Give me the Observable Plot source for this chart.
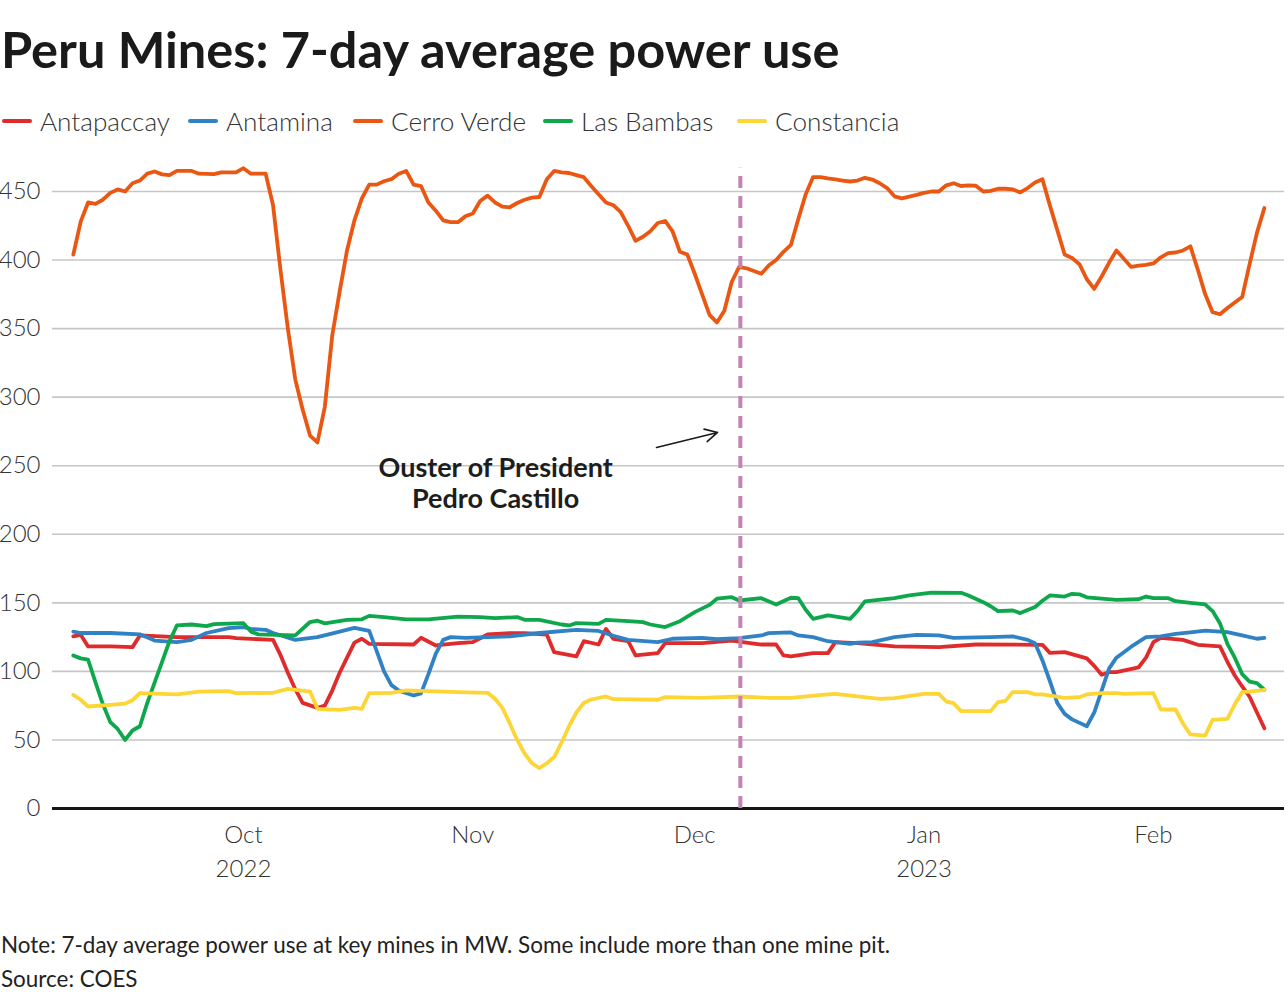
<!DOCTYPE html>
<html>
<head>
<meta charset="utf-8">
<script src="https://cdn.jsdelivr.net/npm/d3@7"></script>
<script src="https://cdn.jsdelivr.net/npm/@observablehq/plot@0.6"></script>
<style>
  html, body { margin: 0; padding: 0; background: #fff; }
  body { font-family: Lato, "Noto Sans", sans-serif; color: #1d1d1d; }
  #wrap { position: relative; width: 1288px; height: 1000px; overflow: hidden; }
  .abs { position: absolute; white-space: nowrap; line-height: 1; }
  #title { left: 1px; font-weight: 700; color: #1a1a1a; }
  #legend .item { position: absolute; display: flex; align-items: center; }
  #legend .sw { width: 30px; height: 4px; border-radius: 2px; margin-right: 8px; }
  #legend .lab { font-weight: 300; color: #333; line-height: 1; }
  #chart { position: absolute; left: 0; top: 150px; }
  #note, #source { left: 1px; font-weight: 400; color: #222; }
</style>
</head>
<body>
<div id="wrap">
  <div id="title" class="abs">Peru Mines: 7-day average power use</div>
  <div id="legend"></div>
  <div id="chart"></div>
  <div id="note" class="abs">Note: 7-day average power use at key mines in MW. Some include more than one mine pit.</div>
  <div id="source" class="abs">Source: COES</div>
</div>
<script>
// ---------------- DATA ----------------
const mines = ["Antapaccay", "Antamina", "Cerro Verde", "Las Bambas", "Constancia"];
const mineColors = ["#df2b2b", "#3082c4", "#ea5712", "#0ea74b", "#fdd535"];

const antapaccay = [
  ["2022-09-08",125.5],["2022-09-09",126.7],["2022-09-10",118.2],["2022-09-13",118.2],["2022-09-16",117.7],
  ["2022-09-17",126.2],["2022-09-22",125],["2022-09-29",125],["2022-09-30",124.2],["2022-10-05",123],
  ["2022-10-06",112],["2022-10-07",99],["2022-10-08",87],["2022-10-09",77],["2022-10-11",73.4],
  ["2022-10-12",75],["2022-10-13",86],["2022-10-14",99],["2022-10-15",110],["2022-10-16",121],
  ["2022-10-17",123.8],["2022-10-18",120.1],["2022-10-24",119.6],["2022-10-25",124.5],["2022-10-27",118.9],
  ["2022-10-30",120.6],["2022-11-01",121.3],["2022-11-03",126.9],["2022-11-06",127.9],["2022-11-08",127.9],
  ["2022-11-11",126.9],["2022-11-12",114],["2022-11-15",110.9],["2022-11-16",122],["2022-11-18",119.6],
  ["2022-11-19",131],["2022-11-20",123.8],["2022-11-22",122],["2022-11-23",111.6],["2022-11-26",113.3],
  ["2022-11-27",120.6],["2022-12-02",120.6],["2022-12-06",122.5],["2022-12-10",119.6],["2022-12-12",119.6],
  ["2022-12-13",111.6],["2022-12-14",110.9],["2022-12-17",113.3],["2022-12-19",113.3],["2022-12-20",121.3],
  ["2022-12-23",120.6],["2022-12-28",118.2],["2023-01-03",117.7],["2023-01-08",119.6],["2023-01-17",119.4],
  ["2023-01-18",113.5],["2023-01-20",114],["2023-01-23",109.5],["2023-01-24",104],["2023-01-25",97.5],
  ["2023-01-26",99.4],["2023-01-27",99.4],["2023-01-30",103],["2023-01-31",110],["2023-02-01",121.3],
  ["2023-02-02",124.5],["2023-02-05",123],["2023-02-07",119.4],["2023-02-10",118.2],["2023-02-11",107],
  ["2023-02-12",97],["2023-02-13",89],["2023-02-14",81.5],["2023-02-15",70],["2023-02-16",58.5]
];

const antamina = [
  ["2022-09-08",129],["2022-09-09",128],["2022-09-13",128],["2022-09-17",127],["2022-09-19",122.5],
  ["2022-09-22",121.3],["2022-09-24",123],["2022-09-26",128],["2022-09-29",131.5],["2022-10-01",132.3],
  ["2022-10-02",131],["2022-10-04",130.3],["2022-10-05",128],["2022-10-08",123],["2022-10-11",125],
  ["2022-10-14",129],["2022-10-16",131.8],["2022-10-18",129.5],["2022-10-19",115],["2022-10-20",100],
  ["2022-10-21",90],["2022-10-22",86],["2022-10-24",82.4],["2022-10-25",84],["2022-10-26",98],
  ["2022-10-27",113],["2022-10-28",123],["2022-10-29",125],["2022-10-31",124.5],["2022-11-06",125.5],
  ["2022-11-10",128],["2022-11-15",130.3],["2022-11-18",129.5],["2022-11-20",126],["2022-11-22",123],
  ["2022-11-26",121.3],["2022-11-28",123.8],["2022-12-02",124.5],["2022-12-04",123.5],["2022-12-07",124.2],
  ["2022-12-10",126.2],["2022-12-11",127.9],["2022-12-14",128.4],["2022-12-15",126.2],["2022-12-17",125],
  ["2022-12-19",122],["2022-12-22",120],["2022-12-23",121],["2022-12-25",121.3],["2022-12-28",125],
  ["2022-12-31",126.7],["2023-01-03",126.2],["2023-01-05",124.5],["2023-01-10",125],["2023-01-13",125.5],
  ["2023-01-15",123],["2023-01-16",120.5],["2023-01-17",108],["2023-01-18",93],["2023-01-19",77],
  ["2023-01-20",69],["2023-01-21",65],["2023-01-23",60],["2023-01-24",70],["2023-01-25",86],
  ["2023-01-26",102],["2023-01-27",110],["2023-01-28",114],["2023-01-29",118],["2023-01-31",125],
  ["2023-02-02",125.5],["2023-02-04",127.4],["2023-02-06",128.5],["2023-02-08",129.8],["2023-02-11",128.6],
  ["2023-02-13",126.2],["2023-02-15",123.8],["2023-02-16",124.5]
];

const cerroVerde = [
  ["2022-09-08",404],["2022-09-09",428],["2022-09-10",442],["2022-09-11",441],["2022-09-12",444],
  ["2022-09-13",449],["2022-09-14",451.5],["2022-09-15",450],["2022-09-16",456],["2022-09-17",458],
  ["2022-09-18",463],["2022-09-19",464.6],["2022-09-20",462.5],["2022-09-21",462],["2022-09-22",465],
  ["2022-09-24",465],["2022-09-25",463],["2022-09-27",462.7],["2022-09-28",464],["2022-09-30",464],
  ["2022-10-01",467],["2022-10-02",463],["2022-10-04",463],["2022-10-05",440],["2022-10-06",393],
  ["2022-10-07",350],["2022-10-08",313],["2022-10-09",291],["2022-10-10",272],["2022-10-11",267],
  ["2022-10-12",293],["2022-10-13",345],["2022-10-14",377],["2022-10-15",407],["2022-10-16",429],
  ["2022-10-17",445],["2022-10-18",455],["2022-10-19",455],["2022-10-20",457.5],["2022-10-21",459],
  ["2022-10-22",463],["2022-10-23",465],["2022-10-24",455],["2022-10-25",454],["2022-10-26",442],
  ["2022-10-27",436],["2022-10-28",429],["2022-10-29",427.6],["2022-10-30",427.6],["2022-10-31",432],
  ["2022-11-01",434],["2022-11-02",443],["2022-11-03",447],["2022-11-04",442],["2022-11-05",439],
  ["2022-11-06",438.5],["2022-11-07",441.6],["2022-11-08",444],["2022-11-09",445.5],["2022-11-10",446],
  ["2022-11-11",459],["2022-11-12",465],["2022-11-13",464],["2022-11-14",463.5],["2022-11-15",462],
  ["2022-11-16",460.5],["2022-11-17",454],["2022-11-18",448],["2022-11-19",442],["2022-11-20",440],
  ["2022-11-21",435],["2022-11-22",425],["2022-11-23",414],["2022-11-24",417],["2022-11-25",421],
  ["2022-11-26",427],["2022-11-27",428.5],["2022-11-28",421],["2022-11-29",406],["2022-11-30",404],
  ["2022-12-01",390],["2022-12-02",375],["2022-12-03",360],["2022-12-04",354.5],["2022-12-05",363],
  ["2022-12-06",384],["2022-12-07",395],["2022-12-08",394],["2022-12-09",392],["2022-12-10",390],
  ["2022-12-11",396],["2022-12-12",400],["2022-12-13",406],["2022-12-14",411],["2022-12-15",430],
  ["2022-12-16",448],["2022-12-17",460.5],["2022-12-18",460.5],["2022-12-19",459.5],["2022-12-20",458.8],
  ["2022-12-21",458],["2022-12-22",457.3],["2022-12-23",458],["2022-12-24",460],["2022-12-25",458.7],
  ["2022-12-26",456],["2022-12-27",452.5],["2022-12-28",446.5],["2022-12-29",445],["2022-12-30",446.2],
  ["2022-12-31",447.5],["2023-01-01",449],["2023-01-02",450],["2023-01-03",450],["2023-01-04",454.5],
  ["2023-01-05",456],["2023-01-06",454],["2023-01-07",454.5],["2023-01-08",454.2],["2023-01-09",450],
  ["2023-01-10",450.5],["2023-01-11",452],["2023-01-12",452],["2023-01-13",451.5],["2023-01-14",449.3],
  ["2023-01-15",452.5],["2023-01-16",456.5],["2023-01-17",459],["2023-01-18",440],["2023-01-19",422],
  ["2023-01-20",404],["2023-01-21",401.5],["2023-01-22",397],["2023-01-23",386],["2023-01-24",379],
  ["2023-01-25",388],["2023-01-26",398],["2023-01-27",407],["2023-01-28",401],["2023-01-29",395],
  ["2023-01-30",396],["2023-01-31",396.5],["2023-02-01",397.5],["2023-02-02",402],["2023-02-03",405],
  ["2023-02-04",405.5],["2023-02-05",407],["2023-02-06",410],["2023-02-07",393],["2023-02-08",375],
  ["2023-02-09",362],["2023-02-10",360.5],["2023-02-11",365],["2023-02-12",369],["2023-02-13",373],
  ["2023-02-14",397],["2023-02-15",420],["2023-02-16",438]
];

const lasBambas = [
  ["2022-09-08",111.6],["2022-09-09",109.5],["2022-09-10",108.5],["2022-09-11",92],["2022-09-12",76],
  ["2022-09-13",63],["2022-09-14",58],["2022-09-15",50],["2022-09-16",56.9],["2022-09-17",60],
  ["2022-09-18",77],["2022-09-19",92],["2022-09-20",107],["2022-09-21",122],["2022-09-22",133.5],
  ["2022-09-24",134.2],["2022-09-26",133],["2022-09-27",134.5],["2022-10-01",135.2],["2022-10-02",129],
  ["2022-10-03",127],["2022-10-08",126.2],["2022-10-10",136],["2022-10-11",137],["2022-10-12",135],
  ["2022-10-15",137.5],["2022-10-17",138],["2022-10-18",140.5],["2022-10-20",139.6],["2022-10-23",137.9],
  ["2022-10-26",137.9],["2022-10-30",140],["2022-11-02",139.6],["2022-11-04",138.8],["2022-11-07",139.6],
  ["2022-11-08",137.6],["2022-11-10",137.6],["2022-11-13",134.2],["2022-11-14",133.5],["2022-11-15",135.2],
  ["2022-11-18",134.7],["2022-11-19",137.6],["2022-11-22",136.6],["2022-11-24",135.9],["2022-11-25",134.2],
  ["2022-11-27",132.3],["2022-11-29",136.6],["2022-12-01",143.2],["2022-12-03",148.5],["2022-12-04",153],
  ["2022-12-06",154.1],["2022-12-07",151.7],["2022-12-10",153.4],["2022-12-12",148.8],["2022-12-14",153.7],
  ["2022-12-15",153.4],["2022-12-16",145],["2022-12-17",138.3],["2022-12-19",140.8],["2022-12-22",138.3],
  ["2022-12-23",144],["2022-12-24",151],["2022-12-28",153.4],["2022-12-30",155.4],["2023-01-02",157.5],
  ["2023-01-06",157.3],["2023-01-07",155.4],["2023-01-09",150.5],["2023-01-10",147.5],["2023-01-11",143.9],
  ["2023-01-13",144.4],["2023-01-14",142.5],["2023-01-16",147],["2023-01-17",151.5],["2023-01-18",155.4],
  ["2023-01-20",154.6],["2023-01-21",156.6],["2023-01-22",156.2],["2023-01-23",154],["2023-01-27",152.2],
  ["2023-01-30",152.6],["2023-01-31",154.6],["2023-02-01",153.4],["2023-02-03",153.4],["2023-02-04",151.2],
  ["2023-02-06",150],["2023-02-08",148.8],["2023-02-09",144],["2023-02-10",135],["2023-02-11",120.1],
  ["2023-02-12",110],["2023-02-13",98],["2023-02-14",92.5],["2023-02-15",91.5],["2023-02-16",86.6]
];

const constancia = [
  ["2022-09-08",82.9],["2022-09-09",79.3],["2022-09-10",74.4],["2022-09-13",75.6],["2022-09-15",76.5],
  ["2022-09-16",79],["2022-09-17",84.1],["2022-09-22",83.2],["2022-09-25",85.3],["2022-09-29",85.6],
  ["2022-09-30",84.1],["2022-10-05",84.4],["2022-10-07",87.3],["2022-10-10",85.3],["2022-10-11",72.7],
  ["2022-10-14",72],["2022-10-16",73.4],["2022-10-17",72.7],["2022-10-18",84.1],["2022-10-21",84.4],
  ["2022-10-23",86.1],["2022-10-30",84.9],["2022-11-03",84.4],["2022-11-04",80],["2022-11-05",73.4],
  ["2022-11-06",62],["2022-11-07",50],["2022-11-08",40],["2022-11-09",33],["2022-11-10",29.4],
  ["2022-11-11",33],["2022-11-12",37.5],["2022-11-13",48],["2022-11-14",60],["2022-11-15",70],
  ["2022-11-16",77],["2022-11-17",79.5],["2022-11-19",81.7],["2022-11-20",79.7],["2022-11-26",79.3],
  ["2022-11-27",81.2],["2022-12-02",80.7],["2022-12-07",81.7],["2022-12-11",80.7],["2022-12-14",80.7],
  ["2022-12-19",83.3],["2022-12-20",83.6],["2022-12-23",81.7],["2022-12-26",80],["2022-12-28",80.5],
  ["2023-01-01",83.6],["2023-01-03",83.6],["2023-01-04",78],["2023-01-05",76.8],["2023-01-06",71],
  ["2023-01-10",71],["2023-01-11",77.6],["2023-01-12",78.5],["2023-01-13",84.9],["2023-01-15",84.9],
  ["2023-01-16",83.2],["2023-01-17",83.2],["2023-01-20",80.7],["2023-01-22",81.2],["2023-01-23",83.2],
  ["2023-01-25",84.1],["2023-01-27",84.1],["2023-01-28",83.6],["2023-02-01",84.1],["2023-02-02",72.2],
  ["2023-02-04",72.2],["2023-02-05",62],["2023-02-06",54],["2023-02-08",53.2],["2023-02-09",64.7],
  ["2023-02-11",65.4],["2023-02-12",76],["2023-02-13",85],["2023-02-14",85.3],["2023-02-16",86.6]
];

const seriesData = [antapaccay, antamina, cerroVerde, lasBambas, constancia];

const yTicks = [0, 50, 100, 150, 200, 250, 300, 350, 400, 450];
const xTicks = ["2022-10-01", "2022-11-01", "2022-12-01", "2023-01-01", "2023-02-01"];
const xTickLabels = ["Oct\n2022", "Nov", "Dec", "Jan\n2023", "Feb"];
const xDomain = ["2022-09-05T04:30Z", "2023-02-18T17:15Z"];

const eventDate = ["2022-12-07T04:00Z"];
const eventTop = 467;
const annotationText = "Ouster of President\nPedro Castillo";
const annotationAt = ["2022-11-04T02:00Z", 237.5];
const arrowFrom = ["2022-11-25T20:00Z", 263.3];
const arrowTo = ["2022-12-04T02:00Z", 274.3];

// ---------------- BUILD ----------------
const parseDay = d3.utcParse("%Y-%m-%d");
const toDate = s => s.length > 10 ? new Date(s) : parseDay(s);

const rows = [];
seriesData.forEach((arr, k) => {
  for (const [d, v] of arr) rows.push({mine: mines[k], date: toDate(d), value: v});
});

const tickDates = xTicks.map(toDate);
const labelFor = new Map(tickDates.map((d, i) => [+d, xTickLabels[i]]));

const plot = Plot.plot({
  width: 1288,
  height: 740,
  marginLeft: 52,
  marginRight: 4,
  marginTop: 41,
  marginBottom: 82,
  style: {fontFamily: "Lato, 'Noto Sans', sans-serif", fontSize: "24px", color: "#333", background: "#fff", overflow: "visible"},
  x: {type: "utc", domain: xDomain.map(toDate)},
  y: {domain: [0, 450]},
  color: {domain: mines, range: mineColors},
  marks: [
    Plot.gridY(yTicks.filter(t => t > 0), {stroke: "#c6c6c6", strokeOpacity: 1, strokeWidth: 1.6}),
    Plot.axisY(yTicks, {tickSize: 0, tickPadding: 12, fontWeight: 300, fill: "#333", label: null}),
    Plot.axisX(tickDates, {tickSize: 0, tickPadding: 10, fontWeight: 300, fill: "#333", lineHeight: 1.42,
      tickFormat: d => labelFor.get(+d), label: null}),
    Plot.line(rows, {x: "date", y: "value", z: "mine", stroke: "mine", strokeWidth: 3.8,
      strokeLinejoin: "round", strokeLinecap: "round"}),
    Plot.ruleY([0], {stroke: "#151515", strokeWidth: 3}),
    Plot.ruleX(eventDate.map(toDate), {y1: 0, y2: eventTop, stroke: "#c283b6", strokeWidth: 4, strokeDasharray: "12,8"}),
    Plot.arrow([{x1: toDate(arrowFrom[0]), y1: arrowFrom[1], x2: toDate(arrowTo[0]), y2: arrowTo[1]}],
      {x1: "x1", y1: "y1", x2: "x2", y2: "y2", stroke: "#1a1a1a", strokeWidth: 1.6, headLength: 13, headAngle: 55, bend: 0}),
    Plot.text([{x: toDate(annotationAt[0]), y: annotationAt[1], t: annotationText}],
      {x: "x", y: "y", text: "t", fontWeight: 700, fontSize: 27, fill: "#1d1d1d", textAnchor: "middle",
       lineAnchor: "middle", lineHeight: 1.15})
  ]
});
document.getElementById("chart").appendChild(plot);

// ---------------- TEXT LAYOUT ----------------
const ctx = document.createElement("canvas").getContext("2d");
function measure(text, weight, family, size) {
  ctx.font = `${weight} ${size}px ${family}`;
  return ctx.measureText(text).width;
}
const fam = "Lato, 'Noto Sans', sans-serif";
function place(el, weight, targetW, capCenter, sizeOverride) {
  const fs = sizeOverride || 100 * targetW / measure(el.textContent, weight, fam, 100);
  el.style.fontSize = fs + "px";
  el.style.top = (capCenter - 0.53 * fs) + "px";
  return fs;
}
place(document.getElementById("title"), 700, 841, 51);
const noteFs = place(document.getElementById("note"), 400, 891, 946);
place(document.getElementById("source"), 400, 0, 980, noteFs);

// Legend
const legendX = [2, 188, 353, 543, 737];
const legendTextW = 630;
const sumW = mines.reduce((s, m) => s + measure(m, 300, fam, 100), 0);
const legFs = 100 * legendTextW / sumW;
const legend = document.getElementById("legend");
mines.forEach((m, i) => {
  const it = document.createElement("div");
  it.className = "item";
  it.style.left = legendX[i] + "px";
  it.style.top = (121 - 0.5 * legFs) + "px";
  it.style.height = legFs + "px";
  const sw = document.createElement("div");
  sw.className = "sw";
  sw.style.background = mineColors[i];
  const lab = document.createElement("span");
  lab.className = "lab";
  lab.style.fontSize = legFs + "px";
  lab.textContent = m;
  it.appendChild(sw); it.appendChild(lab);
  legend.appendChild(it);
});
</script>
</body>
</html>
